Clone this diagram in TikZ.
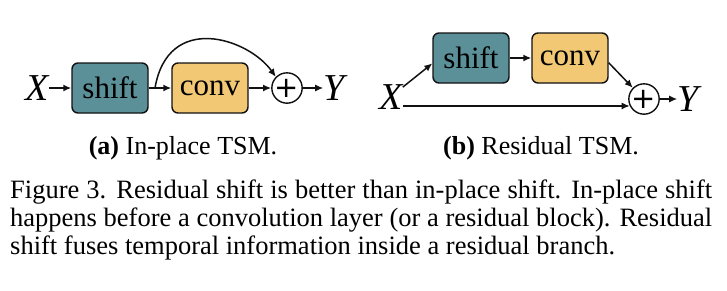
\documentclass[tikz,border=0pt]{standalone}
\usepackage{fontspec}
\setmainfont{Liberation Serif}
\newfontfamily\symfont{DejaVu Sans}
\usepackage{tikz}
\usetikzlibrary{arrows.meta,positioning}
\definecolor{ink}{HTML}{111111}
\definecolor{shiftteal}{HTML}{5B9099}
\definecolor{convamber}{HTML}{F2C874}

\tikzset{
  opbox/.style={rectangle,rounded corners=6pt,draw=ink,line width=1.4pt,minimum width=76pt,minimum height=50pt,inner sep=0pt,font=\fontsize{31}{31}\selectfont},
  sumnode/.style={circle,draw=ink,line width=1.4pt,fill=white,minimum size=29pt,inner sep=0pt,font=\symfont\fontsize{29}{29}\selectfont},
  var/.style={inner sep=0pt,font=\fontsize{38}{38}\selectfont\itshape},
  flow/.style={-{Latex[length=8pt,width=7pt]},ink,line width=1.5pt},
  subcap/.style={inner sep=0pt,font=\fontsize{26}{26}\selectfont}
}

\begin{document}
\begin{tikzpicture}[x=1pt,y=-1pt]
\useasboundingbox (0,0) rectangle (727,290);
% (a) in-place shift
\node[var] (xa) at (37,88) {X};
\node[opbox,fill=shiftteal] (shifta) at (110,88) {shift};
\node[opbox,fill=convamber] (conva) at (210,88) {conv};
\node[sumnode] (suma) at (287,88) {+};
\node[var] (ya) at (334,88) {Y};
\coordinate (forka) at (155,88);
\draw[flow] (xa) -- (shifta);
\draw[flow] (shifta) -- (conva);
\draw[flow] (conva) -- (suma);
\draw[flow] (suma) -- (ya);
\draw[flow] (forka) .. controls (168,12) and (248,38) .. (suma.135);
\node[subcap] (capa) at (183,148) {\textbf{(a)} In-place TSM.};
% (b) residual shift
\node[var] (xb) at (391,97) {X};
\node[opbox,fill=shiftteal] (shiftb) at (471,58) {shift};
\node[opbox,fill=convamber] (convb) at (570,58) {conv};
\node[sumnode] (sumb) at (644,99) {+};
\node[var] (yb) at (688,99) {Y};
\draw[flow] (xb.40) -- (shiftb.188);
\draw[flow] (shiftb) -- (convb);
\draw[flow] (convb.353) -- (sumb.135);
\draw[flow] (xb.east |- sumb.206) -- (sumb.206);
\draw[flow] (sumb) -- (yb);
\node[subcap] (capb) at (541,148) {\textbf{(b)} Residual TSM.};
% figure caption
\node[anchor=north west,inner sep=0pt,text width=702pt,align=justify,font=\fontsize{26.5}{28}\selectfont] (figcap) at (10,180)
  {Figure 3. Residual shift is better than in-place shift. In-place shift\linebreak
   happens before a convolution layer (or a residual block). Residual\linebreak
   shift fuses temporal information inside a residual branch.};
\end{tikzpicture}
\end{document}
